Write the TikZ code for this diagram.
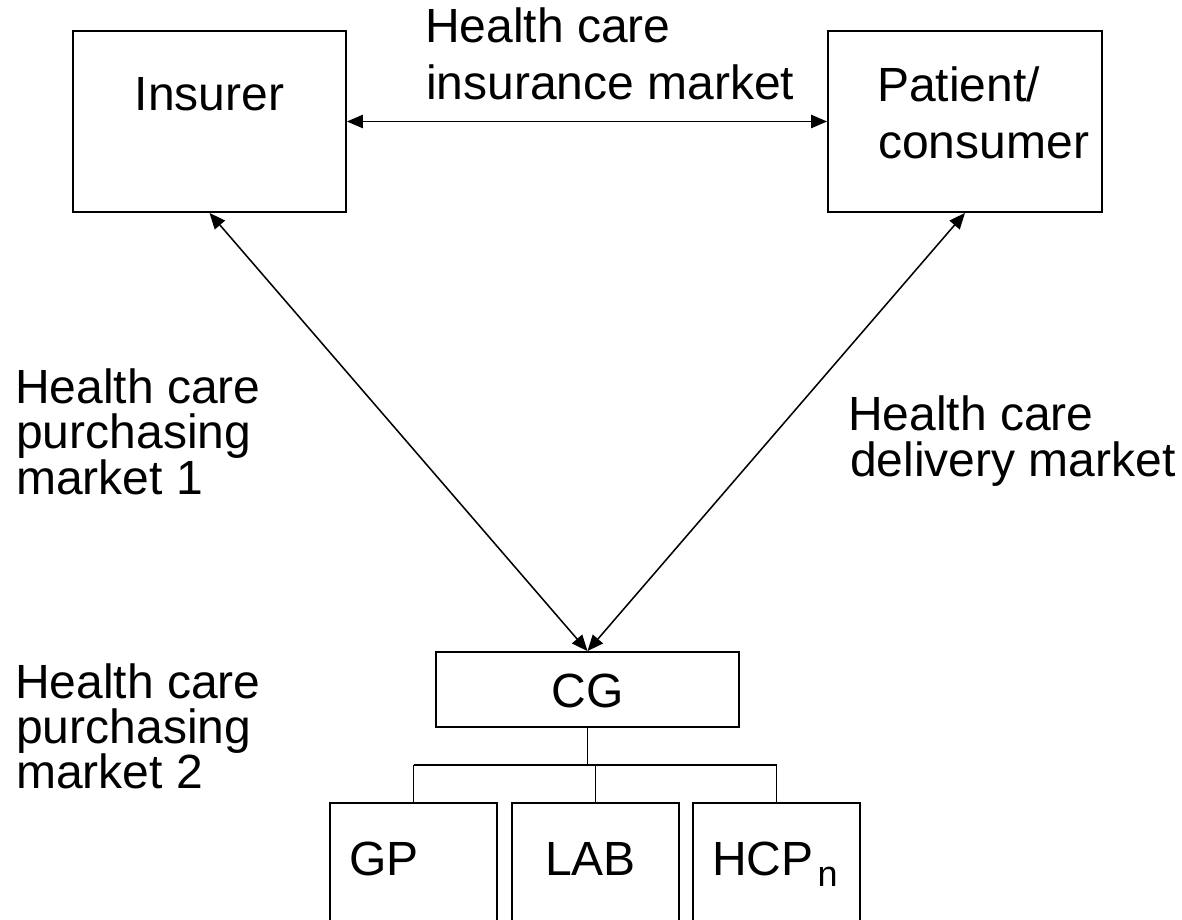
\documentclass[tikz,border=0pt]{standalone}
\usepackage{fontspec}
\setmainfont{Liberation Sans}
\usetikzlibrary{arrows.meta,fit}
\begin{document}
\begin{tikzpicture}[x=0.75pt,y=-0.75pt,
  box/.style={draw, line width=1.4pt, inner sep=0pt},
  lbl/.style={anchor=base west, inner sep=0pt, font=\fontsize{36}{36}\selectfont},
  clbl/.style={anchor=base, inner sep=0pt, font=\fontsize{36}{36}\selectfont},
  link/.style={line width=1.15pt, {Triangle[length=12pt,width=10pt]}-{Triangle[length=12pt,width=10pt]}},
  tree/.style={line width=1.4pt}]
\useasboundingbox (0,0) rectangle (1182,920);
\clip (0,0) rectangle (1182,920);
% boxes
\node[box, fit={(73,31) (346,212)}] (ins) {};
\node[box, fit={(828,31) (1102,212)}] (pat) {};
\node[box, fit={(436,652) (739,727)}] (cg) {};
\node[box, fit={(330,803) (497,940)}] (gp) {};
\node[box, fit={(512,803) (679,940)}] (lab) {};
\node[box, fit={(693,803) (860,940)}] (hcp) {};
% box texts
\node[clbl] (tins) at (209.5,111) {Insurer};
\node[lbl] (tpat1) at (877,102) {Patient/};
\node[lbl] (tpat2) at (878,159) {consumer};
\node[clbl] (tcg) at (587.5,707) {CG};
\node[lbl] (tgp) at (349,875) {GP};
\node[lbl] (tlab) at (545,875) {LAB};
\node[lbl] (thcp) at (712,875) {HCP\hspace{3pt}\raisebox{-8.25pt}{\fontsize{27}{27}\selectfont n}};
% market labels
\node[lbl] (im1) at (425,43) {Health care};
\node[lbl] (im2) at (426,100) {insurance market};
\node[lbl] (pa1) at (15,403) {Health care};
\node[lbl] (pa2) at (16,448) {purchasing};
\node[lbl] (pa3) at (16,494) {market 1};
\node[lbl] (pb1) at (15,698) {Health care};
\node[lbl] (pb2) at (16,743) {purchasing};
\node[lbl] (pb3) at (16,788) {market 2};
\node[lbl] (dm1) at (848,430) {Health care};
\node[lbl] (dm2) at (850,476) {delivery market};
% connectors
\draw[link] (ins.east) -- (pat.west);
\draw[link] (ins.south) -- (cg.north);
\draw[link] (pat.south) -- (cg.north);
% tree
\coordinate (bus) at (587.5,765);
\draw[tree] (cg.south) -- (bus);
\draw[tree] (gp.north |- bus) -- (hcp.north |- bus);
\draw[tree] (gp.north |- bus) -- (gp.north);
\draw[tree] (lab.north |- bus) -- (lab.north);
\draw[tree] (hcp.north |- bus) -- (hcp.north);
\end{tikzpicture}
\end{document}
